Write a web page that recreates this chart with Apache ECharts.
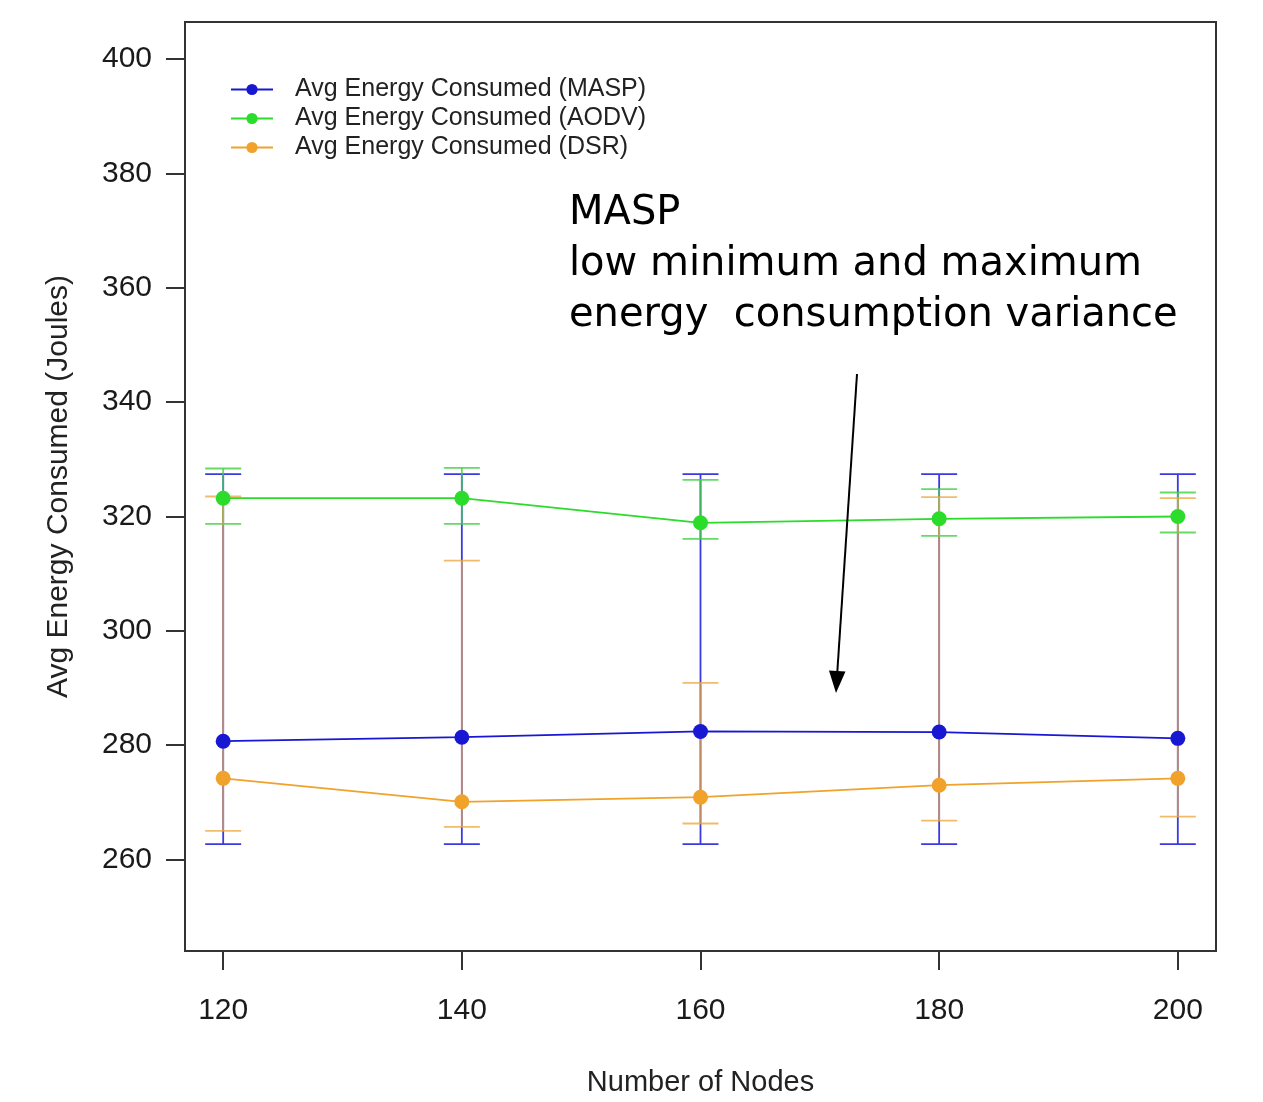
<!DOCTYPE html>
<html>
<head>
<meta charset="utf-8">
<script src="https://cdn.jsdelivr.net/npm/echarts@6/dist/echarts.min.js"></script>
<style>
html,body{margin:0;padding:0;background:#fff;}
#chart{width:1263px;height:1102px;}
</style>
</head>
<body>
<div id="chart"></div>
<script>
// ---- data ----
const nodes = [120, 140, 160, 180, 200];
const xTicks = [120, 140, 160, 180, 200];
const yTicks = [260, 280, 300, 320, 340, 360, 380, 400];

const seriesNames = ['Avg Energy Consumed (MASP)', 'Avg Energy Consumed (AODV)', 'Avg Energy Consumed (DSR)'];

const maspAvg  = [280.7, 281.4, 282.4, 282.3, 281.2];
const maspLow  = [262.7, 262.7, 262.7, 262.7, 262.7];
const maspHigh = [327.4, 327.4, 327.4, 327.4, 327.4];

const aodvAvg  = [323.2, 323.2, 318.9, 319.6, 320.0];
const aodvLow  = [318.7, 318.7, 316.1, 316.6, 317.2];
const aodvHigh = [328.4, 328.5, 326.4, 324.8, 324.2];

const dsrAvg   = [274.2, 270.1, 270.9, 273.0, 274.2];
const dsrLow   = [265.0, 265.7, 266.3, 266.8, 267.5];
const dsrHigh  = [323.5, 312.3, 290.9, 323.4, 323.2];

const annotationLines = ['MASP', 'low minimum and maximum', 'energy  consumption variance'];

// ---- styling ----
const colors = ['#1818D2', '#2BDC2B', '#F0A22A'];
const barColors = ['#3A3AE0', '#3FD23F', '#EBA63A'];
const barOpacity = [1, 0.8, 0.75];

function errData(low, high) {
  return nodes.map((x, i) => [x, low[i], high[i]]);
}

function errSeries(idx, low, high) {
  return {
    type: 'custom',
    name: seriesNames[idx] + ' err',
    z: 2 + idx,
    silent: true,
    encode: { x: 0, y: [1, 2] },
    data: errData(low, high),
    renderItem: function (params, api) {
      const x = api.value(0), lo = api.value(1), hi = api.value(2);
      const pLo = api.coord([x, lo]);
      const pHi = api.coord([x, hi]);
      const hw = 18;
      const st = { stroke: barColors[idx], lineWidth: 1.8, opacity: barOpacity[idx] };
      return {
        type: 'group',
        children: [
          { type: 'line', shape: { x1: pLo[0], y1: pLo[1], x2: pHi[0], y2: pHi[1] }, style: st },
          { type: 'line', shape: { x1: pLo[0] - hw, y1: pLo[1], x2: pLo[0] + hw, y2: pLo[1] }, style: st },
          { type: 'line', shape: { x1: pHi[0] - hw, y1: pHi[1], x2: pHi[0] + hw, y2: pHi[1] }, style: st }
        ]
      };
    }
  };
}

function lineSeries(idx, avg) {
  return {
    type: 'line',
    name: seriesNames[idx],
    z: 10 + idx,
    data: nodes.map((x, i) => [x, avg[i]]),
    symbol: 'circle',
    symbolSize: 15,
    color: colors[idx],
    lineStyle: { color: colors[idx], width: 1.8 },
    itemStyle: { color: colors[idx] },
    emphasis: { disabled: true },
    animation: false
  };
}

const chart = echarts.init(document.getElementById('chart'), null, { renderer: 'canvas' });

const font = '"Liberation Sans", Arial, Helvetica, sans-serif';

const option = {
  backgroundColor: '#ffffff',
  animation: false,
  textStyle: { fontFamily: font },
  grid: {
    left: 185, top: 22, right: 47, bottom: 145,
    show: true, borderColor: '#333', borderWidth: 2, backgroundColor: 'transparent'
  },
  legend: {
    data: seriesNames,
    orient: 'vertical',
    left: 230, top: 75,
    padding: 0,
    itemGap: 0,
    itemWidth: 42,
    itemHeight: 14,
    textStyle: { fontFamily: font, fontSize: 25, color: '#222', lineHeight: 29, padding: [0, 0, 0, 17] },
    selectedMode: false
  },
  xAxis: {
    type: 'value',
    min: 116.8, max: 203.2,
    name: 'Number of Nodes',
    nameLocation: 'middle',
    nameGap: 117,
    nameTextStyle: { fontFamily: font, fontSize: 29, color: '#222' },
    axisLine: { show: false },
    splitLine: { show: false },
    axisTick: { show: true, length: 19, customValues: xTicks, lineStyle: { color: '#333', width: 2 } },
    axisLabel: { customValues: xTicks, margin: 45, fontSize: 30, color: '#1a1a1a', fontFamily: font }
  },
  yAxis: {
    type: 'value',
    min: 244, max: 406.5,
    name: 'Avg Energy Consumed (Joules)',
    nameLocation: 'middle',
    nameRotate: 90,
    nameGap: 111,
    nameTextStyle: { fontFamily: font, fontSize: 30, color: '#222' },
    axisLine: { show: false },
    splitLine: { show: false },
    axisTick: { show: true, length: 19, customValues: yTicks, lineStyle: { color: '#333', width: 2 } },
    axisLabel: { customValues: yTicks, margin: 33, fontSize: 30, color: '#1a1a1a', fontFamily: font }
  },
  series: [
    errSeries(0, maspLow, maspHigh),
    errSeries(1, aodvLow, aodvHigh),
    errSeries(2, dsrLow, dsrHigh),
    lineSeries(0, maspAvg),
    lineSeries(1, aodvAvg),
    lineSeries(2, dsrAvg)
  ],
  graphic: [
    {
      type: 'text',
      left: 569, top: 188,
      z: 100,
      style: {
        text: annotationLines.join('\n'),
        fontFamily: '"DejaVu Sans", sans-serif',
        fontSize: 40,
        lineHeight: 51,
        fill: '#000'
      }
    },
    {
      type: 'line',
      z: 100,
      shape: { x1: 857, y1: 374, x2: 837.3, y2: 672 },
      style: { stroke: '#000', lineWidth: 2 }
    },
    {
      type: 'polygon',
      z: 100,
      shape: { points: [[836, 693], [845.5, 671.5], [829, 670.5]] },
      style: { fill: '#000' }
    }
  ]
};

chart.setOption(option);
</script>
</body>
</html>
